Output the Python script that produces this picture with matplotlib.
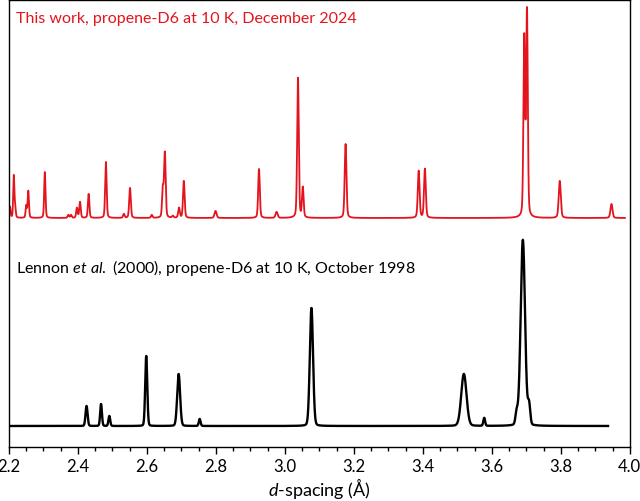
import matplotlib.pyplot as plt
from matplotlib.ticker import MultipleLocator
import numpy as np

plt.rcParams['font.family'] = ['Lato', 'DejaVu Sans']
plt.rcParams['mathtext.fontset'] = 'custom'
plt.rcParams['mathtext.rm'] = 'Lato'
plt.rcParams['mathtext.it'] = 'Lato:italic'

# Peak tables: d-spacing (A), height, FWHM (A)
red_pos = [2.203, 2.214, 2.218, 2.250, 2.256, 2.304, 2.372, 2.380, 2.397, 2.406,
           2.431, 2.481, 2.533, 2.551, 2.614, 2.646, 2.652, 2.675, 2.693, 2.707,
           2.799, 2.925, 2.976, 3.038, 3.052, 3.176, 3.388, 3.406, 3.694, 3.702,
           3.797, 3.947]
red_height = [11, 42, 10, 12, 27, 46, 3, 3, 10, 16,
              24, 56, 4, 30, 3, 28, 65, 2, 10, 37,
              7, 49, 6, 140, 30, 74, 47, 49, 178, 205,
              37, 14]
red_fwhm = [0.004, 0.004, 0.004, 0.004, 0.0045, 0.0045, 0.005, 0.005, 0.005, 0.005,
            0.005, 0.005, 0.005, 0.0055, 0.005, 0.005, 0.0055, 0.005, 0.0055, 0.0055,
            0.007, 0.0055, 0.007, 0.0055, 0.0055, 0.006, 0.006, 0.006, 0.0055, 0.0055,
            0.007, 0.007]
red_range = (2.201, 3.986)

black_pos = [2.425, 2.467, 2.491, 2.598, 2.692, 2.753, 3.077, 3.519, 3.578,
             3.672, 3.690, 3.708]
black_height = [20, 22, 10, 70, 52, 7, 118, 52, 8, 12, 186, 20]
black_fwhm = [0.007, 0.006, 0.006, 0.007, 0.010, 0.006, 0.011, 0.018, 0.006,
              0.008, 0.015, 0.008]
black_range = (2.201, 3.937)

xticks = [2.2, 2.4, 2.6, 2.8, 3.0, 3.2, 3.4, 3.6, 3.8, 4.0]

red_offset = 229
black_offset = 21


def profile(x, pos, height, fwhm, eta):
    # pseudo-Voigt peaks summed over the table
    y = np.zeros_like(x)
    for p, h, w in zip(pos, height, fwhm):
        s = w / 2.3548
        g = np.exp(-0.5 * ((x - p) / s) ** 2)
        l = 1.0 / (1.0 + ((x - p) / (w / 2)) ** 2)
        y += h * ((1 - eta) * g + eta * l)
    return y


fig = plt.figure(figsize=(6.4, 5.02), dpi=100)
ax = fig.add_axes([0.014, 0.1076, 0.970, 0.8904])

xr = np.linspace(red_range[0], red_range[1], 8000)
ax.plot(xr, red_offset + profile(xr, red_pos, red_height, red_fwhm, 0.3),
        color='#e4141d', lw=1.3)

xb = np.linspace(black_range[0], black_range[1], 8000)
ax.plot(xb, black_offset + profile(xb, black_pos, black_height, black_fwhm, 0.1),
        color='black', lw=1.7)

ax.set_xlim(2.2, 4.0)
ax.set_ylim(0, 447)
ax.set_yticks([])
ax.set_xticks(xticks)
ax.set_xticklabels([f'{t:.1f}' for t in xticks])
ax.xaxis.set_minor_locator(MultipleLocator(0.05))
ax.tick_params(axis='x', which='major', direction='out', length=5, width=1,
               labelsize=12, pad=3)
ax.tick_params(axis='x', which='minor', direction='out', length=3, width=1)
for s in ax.spines.values():
    s.set_linewidth(1.0)

ax.set_xlabel(r'$d$-spacing (Å)', fontsize=13, labelpad=0.5)

ax.text(0.012, 0.975, 'This work, propene-D6 at 10 K, December 2024',
        transform=ax.transAxes, color='#e4141d', fontsize=11.5, va='top', ha='left')
ax.text(0.012, 0.425, r'Lennon $et\ al.$ (2000), propene-D6 at 10 K, October 1998',
        transform=ax.transAxes, color='black', fontsize=11.5, va='top', ha='left')

fig.savefig('out.png', dpi=100)
